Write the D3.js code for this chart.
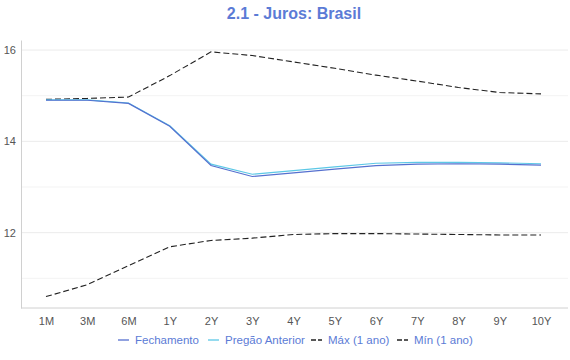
<!DOCTYPE html>
<html>
<head>
<meta charset="utf-8">
<script src="https://cdn.jsdelivr.net/npm/d3@7"></script>
<style>
  body { margin: 0; background: #fff; }
  svg { font-family: "Liberation Sans", Arial, sans-serif; }
</style>
</head>
<body>
<script>
const tenors = ['1M', '3M', '6M', '1Y', '2Y', '3Y', '4Y', '5Y', '6Y', '7Y', '8Y', '9Y', '10Y'];
const fechamento = [14.90, 14.90, 14.83, 14.33, 13.47, 13.23, 13.31, 13.39, 13.47, 13.50, 13.51, 13.50, 13.48];
const pregaoAnterior = [14.91, 14.91, 14.84, 14.34, 13.50, 13.28, 13.36, 13.44, 13.52, 13.54, 13.54, 13.53, 13.51];
const maxAno = [14.92, 14.94, 14.97, 15.44, 15.96, 15.88, 15.74, 15.60, 15.45, 15.32, 15.18, 15.07, 15.04];
const minAno = [10.60, 10.86, 11.28, 11.69, 11.83, 11.88, 11.96, 11.98, 11.98, 11.97, 11.96, 11.95, 11.95];
const yTicks = [12, 14, 16];
const yMinor = [11, 13, 15];

const W = 570, H = 360;
const m = { left: 21, right: 568, top: 40, bottom: 308 };

const svg = d3.select('body').append('svg')
  .attr('width', W)
  .attr('height', H);

const x = d3.scalePoint()
  .domain(tenors)
  .range([46, 541]);

const y = d3.scaleLinear()
  .domain([10.35, 16.22])
  .range([m.bottom, m.top]);

// title
svg.append('text')
  .attr('x', W / 2 + 9)
  .attr('y', 19)
  .attr('text-anchor', 'middle')
  .attr('font-size', 16)
  .attr('font-weight', 'bold')
  .attr('fill', '#5b7bd6')
  .text('2.1 - Juros: Brasil');

// grid
svg.append('g')
  .selectAll('line')
  .data(yMinor)
  .join('line')
  .attr('x1', m.left).attr('x2', m.right)
  .attr('y1', d => y(d)).attr('y2', d => y(d))
  .attr('stroke', '#f3f3f3');

svg.append('g')
  .selectAll('line')
  .data(yTicks)
  .join('line')
  .attr('x1', m.left).attr('x2', m.right)
  .attr('y1', d => y(d)).attr('y2', d => y(d))
  .attr('stroke', '#ebebeb');

// axes
const yAxis = svg.append('g')
  .attr('transform', `translate(${m.left},0)`)
  .call(d3.axisLeft(y).tickValues(yTicks).tickFormat(d3.format('d')).tickSize(0).tickPadding(5));
yAxis.select('.domain').attr('stroke', '#d0d0d0');
yAxis.selectAll('text').attr('font-size', 11).attr('fill', '#555').attr('font-family', null);

svg.append('line')
  .attr('x1', m.left).attr('x2', m.right)
  .attr('y1', m.bottom).attr('y2', m.bottom)
  .attr('stroke', '#d0d0d0');

const xAxis = svg.append('g')
  .attr('transform', `translate(0,${m.bottom})`)
  .call(d3.axisBottom(x).tickSize(0).tickPadding(9));
xAxis.select('.domain').remove();
xAxis.selectAll('text').attr('font-size', 11).attr('fill', '#555').attr('font-family', null);

// series
const series = [
  { name: 'Máx (1 ano)', values: maxAno, color: '#222', dash: '6,3', width: 1.1 },
  { name: 'Mín (1 ano)', values: minAno, color: '#222', dash: '6,3', width: 1.1 },
  { name: 'Pregão Anterior', values: pregaoAnterior, color: '#5cc8e6', dash: null, width: 1.2 },
  { name: 'Fechamento', values: fechamento, color: '#5570cf', dash: null, width: 1.2 }
];

const line = d3.line()
  .x((d, i) => x(tenors[i]))
  .y(d => y(d));

svg.append('g')
  .selectAll('path')
  .data(series)
  .join('path')
  .attr('d', d => line(d.values))
  .attr('fill', 'none')
  .attr('stroke', d => d.color)
  .attr('stroke-width', d => d.width)
  .attr('stroke-dasharray', d => d.dash);

// legend
const legendItems = [
  { name: 'Fechamento', color: '#5570cf', dash: null, x: 118 },
  { name: 'Pregão Anterior', color: '#5cc8e6', dash: null, x: 208 },
  { name: 'Máx (1 ano)', color: '#222', dash: '6,3', x: 311 },
  { name: 'Mín (1 ano)', color: '#222', dash: '6,3', x: 397 }
];

const lg = svg.append('g')
  .selectAll('g')
  .data(legendItems)
  .join('g')
  .attr('transform', d => `translate(${d.x},344)`);

lg.append('line')
  .attr('x1', 0).attr('x2', 11)
  .attr('y1', -4).attr('y2', -4)
  .attr('stroke', d => d.color)
  .attr('stroke-width', 1.3)
  .attr('stroke-dasharray', d => d.dash ? '5,2' : null);

lg.append('text')
  .attr('x', 17)
  .attr('y', 0)
  .attr('font-size', 11.5)
  .attr('fill', '#5b7bd6')
  .text(d => d.name);
</script>
</body>
</html>
